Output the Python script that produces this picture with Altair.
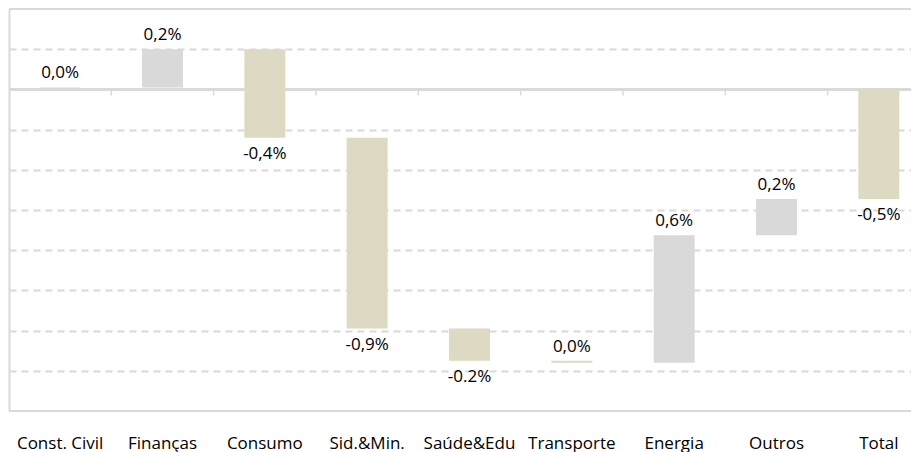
import altair as alt
import pandas as pd

categories = ["Const. Civil", "Finanças", "Consumo", "Sid.&Min.", "Saúde&Edu",
              "Transporte", "Energia", "Outros", "Total"]
changes = [0.01, 0.19, -0.44, -0.95, -0.16, -0.01, 0.635, 0.18]
value_labels = ["0,0%", "0,2%", "-0,4%", "-0,9%", "-0.2%", "0,0%", "0,6%", "0,2%", "-0,5%"]
label_side = ["above", "above", "below", "below", "below", "above", "above", "above", "below"]
grid_values = [0.2, -0.2, -0.4, -0.6, -0.8, -1.0, -1.2, -1.4]
y_limits = [-1.6, 0.4]

rows = []
level = 0.0
for cat, d, lab, side in zip(categories[:-1], changes, value_labels[:-1], label_side[:-1]):
    rows.append(dict(cat=cat, start=level, end=level + d, label=lab, side=side,
                     sign="up" if d >= 0 else "down"))
    level += d
rows.append(dict(cat=categories[-1], start=0.0, end=level, label=value_labels[-1],
                 side=label_side[-1], sign="up" if level >= 0 else "down"))
df = pd.DataFrame(rows)
df["top"] = df[["start", "end"]].max(axis=1)
df["bottom"] = df[["start", "end"]].min(axis=1)

FONT = "Open Sans"
GRID = "#D9D9D9"

x_scale = alt.Scale(range=[0, 921], paddingInner=0.6, paddingOuter=0.3)
x_enc = alt.X(
    "cat:N", sort=categories, scale=x_scale,
    axis=alt.Axis(title=None, ticks=False, domain=False, labelPadding=32,
                  labelFont=FONT, labelFontSize=17, labelColor="#000000",
                  labelAngle=0, labelAlign="center", grid=False),
)
y_scale = alt.Scale(domain=y_limits, nice=False, zero=False)

base = alt.Chart(df)

zero_line = base.mark_rule(color=GRID, strokeWidth=2).encode(y=alt.datum(0))
frame_top = base.mark_rule(color=GRID, strokeWidth=2).encode(y=alt.datum(y_limits[1]))
frame_bottom = base.mark_rule(color=GRID, strokeWidth=2).encode(y=alt.datum(y_limits[0]))

cat_ticks = base.transform_filter(alt.datum.cat != categories[0]).mark_rule(
    color=GRID, strokeWidth=1.5, xOffset=-51.2
).encode(
    x=alt.X("cat:N", sort=categories),
    y=alt.datum(0), y2=alt.datum(-0.03),
)

bars = base.mark_bar().encode(
    x=x_enc,
    y=alt.Y("bottom:Q", scale=y_scale,
            axis=alt.Axis(title=None, labels=False, ticks=False, domain=True,
                          domainColor=GRID, domainWidth=2, grid=True,
                          values=grid_values, gridColor=GRID, gridDash=[7, 5], gridWidth=2)),
    y2="top:Q",
    color=alt.Color("sign:N", scale=alt.Scale(domain=["up", "down"],
                                               range=["#D9D9D9", "#DDD9C3"]), legend=None),
)

above = base.transform_filter(alt.datum.side == "above").mark_text(
    dy=-14, baseline="middle", font=FONT, fontSize=17, color="#000000"
).encode(x=alt.X("cat:N", sort=categories), y=alt.Y("top:Q"), text="label:N")

below = base.transform_filter(alt.datum.side == "below").mark_text(
    dy=16, baseline="middle", font=FONT, fontSize=17, color="#000000"
).encode(x=alt.X("cat:N", sort=categories), y=alt.Y("bottom:Q"), text="label:N")

chart = alt.layer(zero_line, frame_top, frame_bottom, cat_ticks, bars, above, below).properties(
    width=902, height=402,
    autosize=alt.AutoSizeParams(type="none"),
    padding={"left": 1, "top": 1, "right": 0, "bottom": 50},
).configure_view(stroke=None).configure(background="white")

chart.save("out.html", embed_options={"renderer": "svg", "actions": False})
